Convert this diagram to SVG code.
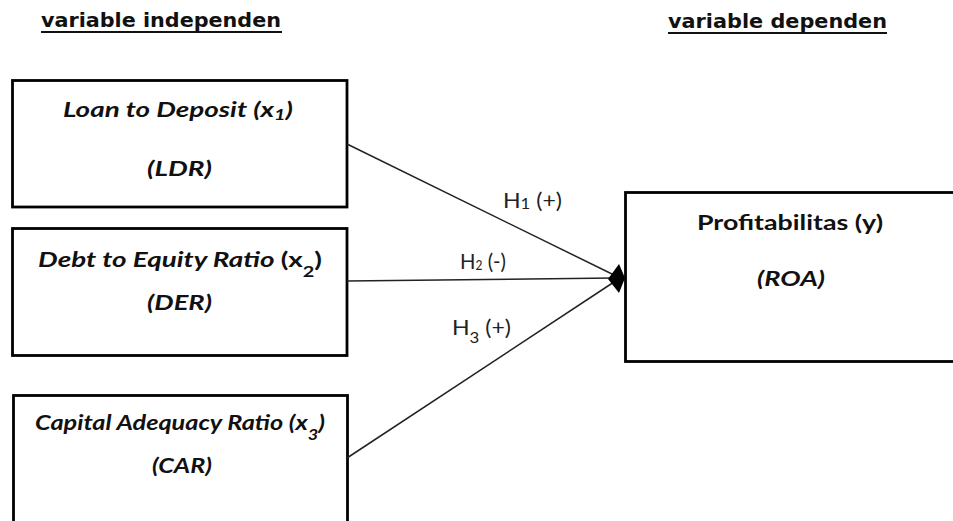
<svg xmlns="http://www.w3.org/2000/svg" width="953" height="521" viewBox="0 0 953 521">
  <style>
    .box { fill: #ffffff; stroke: #000000; stroke-width: 2.8; }
    .head { font-family: "DejaVu Sans", sans-serif; font-weight: bold; font-size: 19px; fill: #111111; }
    .lbl { font-family: Lato, "Open Sans", sans-serif; font-weight: bold; font-style: italic; font-size: 21px; fill: #111111; }
    .up { font-style: normal; }
    .hyp { font-family: Lato, "Open Sans", sans-serif; font-size: 22px; fill: #222222; }
    .edge { stroke: #222222; stroke-width: 1.5; fill: none; }
  </style>
  <rect width="953" height="521" fill="#ffffff"/>

  <!-- column headings -->
  <g id="heading-independent">
    <text class="head" x="41" y="27" textLength="240" lengthAdjust="spacingAndGlyphs">variable independen</text>
    <line x1="41" y1="32" x2="282" y2="32" stroke="#111111" stroke-width="2"/>
  </g>
  <g id="heading-dependent">
    <text class="head" x="668" y="28" textLength="219" lengthAdjust="spacingAndGlyphs">variable dependen</text>
    <line x1="668" y1="33" x2="887" y2="33" stroke="#111111" stroke-width="2"/>
  </g>

  <!-- independent variables -->
  <g id="node-ldr">
    <rect class="box" x="12.5" y="80.5" width="334.5" height="126.5"/>
    <text class="lbl" x="63" y="117" textLength="230" lengthAdjust="spacingAndGlyphs">Loan to Deposit (x<tspan font-size="15" dy="3">1</tspan><tspan dy="-3">)</tspan></text>
    <text class="lbl" x="147" y="176" textLength="65" lengthAdjust="spacingAndGlyphs">(LDR)</text>
  </g>
  <g id="node-der">
    <rect class="box" x="12.5" y="228.5" width="334.5" height="127"/>
    <text class="lbl" x="38" y="267" textLength="284" lengthAdjust="spacingAndGlyphs">Debt to Equity Ratio <tspan class="up">(x</tspan><tspan class="up" font-size="15" dy="10">2</tspan><tspan class="up" dy="-10">)</tspan></text>
    <text class="lbl" x="147" y="310" textLength="65" lengthAdjust="spacingAndGlyphs">(DER)</text>
  </g>
  <g id="node-car">
    <rect class="box" x="13.5" y="395.5" width="334" height="130"/>
    <text class="lbl" x="35" y="430" textLength="290" lengthAdjust="spacingAndGlyphs">Capital Adequacy Ratio (x<tspan font-size="15" dy="10">3</tspan><tspan dy="-10">)</tspan></text>
    <text class="lbl" x="152" y="473" textLength="60" lengthAdjust="spacingAndGlyphs">(CAR)</text>
  </g>

  <!-- dependent variable -->
  <g id="node-roa">
    <rect class="box" x="625.5" y="192.5" width="340" height="169"/>
    <text class="lbl up" x="697" y="230" font-size="22" textLength="186" lengthAdjust="spacingAndGlyphs">Profitabilitas (y)</text>
    <text class="lbl" x="757" y="286" font-size="22" textLength="68" lengthAdjust="spacingAndGlyphs">(ROA)</text>
  </g>

  <!-- hypothesis paths -->
  <g id="connectors">
    <line class="edge" x1="347" y1="144" x2="614" y2="275"/>
    <line class="edge" x1="347" y1="281" x2="614" y2="278"/>
    <line class="edge" x1="347" y1="458" x2="614" y2="282"/>
    <path d="M608,279 L619,264 L625,278 L619,293 Z" fill="#000000"/>
    <text class="hyp" x="503" y="208" textLength="59" lengthAdjust="spacingAndGlyphs">H<tspan font-size="16" dy="1">1</tspan><tspan dy="-1"> (+)</tspan></text>
    <text class="hyp" x="460" y="269" font-size="17" textLength="46" lengthAdjust="spacingAndGlyphs">H<tspan font-size="13" dy="1">2</tspan><tspan dy="-1"> (-)</tspan></text>
    <text class="hyp" x="452" y="335" textLength="59" lengthAdjust="spacingAndGlyphs">H<tspan font-size="16" dy="8">3</tspan><tspan dy="-8"> (+)</tspan></text>
  </g>
</svg>
